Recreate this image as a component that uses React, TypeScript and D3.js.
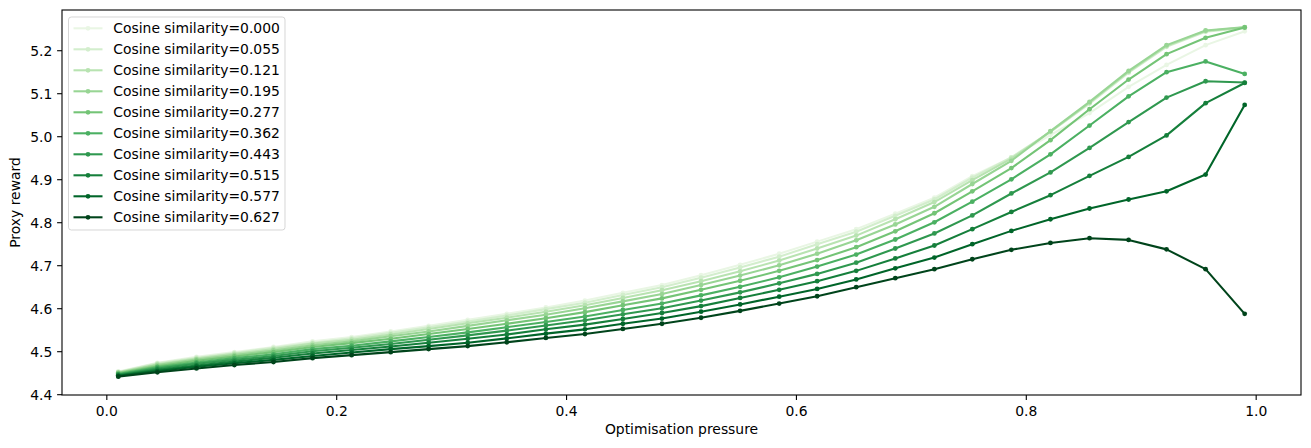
import React from "react";
import * as d3 from "d3";

const pressure = [0.010, 0.044, 0.078, 0.111, 0.145, 0.179, 0.213, 0.247, 0.280, 0.314, 0.348, 0.382, 0.416, 0.449, 0.483, 0.517, 0.551, 0.585, 0.618, 0.652, 0.686, 0.720, 0.753, 0.787, 0.821, 0.855, 0.889, 0.922, 0.956, 0.990];

const cosineLabels = ["0.000", "0.055", "0.121", "0.195", "0.277", "0.362", "0.443", "0.515", "0.577", "0.627"];

const cos000 = [4.454, 4.474, 4.488, 4.499, 4.511, 4.524, 4.534, 4.547, 4.560, 4.574, 4.588, 4.603, 4.619, 4.637, 4.655, 4.678, 4.702, 4.728, 4.756, 4.785, 4.821, 4.858, 4.908, 4.952, 5.004, 5.055, 5.116, 5.167, 5.213, 5.245];
const cos055 = [4.453, 4.473, 4.486, 4.497, 4.509, 4.521, 4.531, 4.544, 4.557, 4.570, 4.584, 4.599, 4.614, 4.632, 4.650, 4.672, 4.696, 4.721, 4.750, 4.779, 4.816, 4.854, 4.905, 4.952, 5.011, 5.077, 5.149, 5.209, 5.244, 5.253];
const cos121 = [4.452, 4.471, 4.484, 4.495, 4.506, 4.519, 4.528, 4.540, 4.553, 4.566, 4.579, 4.593, 4.608, 4.625, 4.643, 4.664, 4.687, 4.712, 4.740, 4.770, 4.808, 4.848, 4.899, 4.949, 5.012, 5.079, 5.151, 5.211, 5.246, 5.254];
const cos195 = [4.451, 4.469, 4.482, 4.492, 4.503, 4.515, 4.524, 4.536, 4.547, 4.560, 4.573, 4.586, 4.601, 4.617, 4.634, 4.655, 4.677, 4.701, 4.728, 4.759, 4.796, 4.837, 4.890, 4.944, 5.013, 5.081, 5.153, 5.213, 5.247, 5.255];
const cos277 = [4.450, 4.466, 4.479, 4.489, 4.499, 4.511, 4.520, 4.530, 4.541, 4.553, 4.565, 4.578, 4.592, 4.608, 4.624, 4.644, 4.665, 4.688, 4.713, 4.743, 4.780, 4.822, 4.873, 4.927, 4.992, 5.064, 5.133, 5.192, 5.230, 5.254];
const cos362 = [4.448, 4.464, 4.475, 4.485, 4.494, 4.506, 4.514, 4.524, 4.534, 4.545, 4.557, 4.569, 4.582, 4.597, 4.612, 4.631, 4.651, 4.673, 4.698, 4.726, 4.761, 4.801, 4.849, 4.901, 4.959, 5.026, 5.094, 5.150, 5.175, 5.146];
const cos443 = [4.447, 4.461, 4.472, 4.481, 4.490, 4.501, 4.509, 4.518, 4.528, 4.538, 4.549, 4.561, 4.573, 4.587, 4.601, 4.619, 4.638, 4.659, 4.681, 4.707, 4.740, 4.775, 4.817, 4.868, 4.917, 4.974, 5.034, 5.091, 5.129, 5.126];
const cos515 = [4.445, 4.458, 4.468, 4.477, 4.486, 4.496, 4.504, 4.512, 4.521, 4.530, 4.540, 4.552, 4.563, 4.576, 4.590, 4.606, 4.625, 4.644, 4.664, 4.688, 4.717, 4.747, 4.785, 4.825, 4.864, 4.909, 4.953, 5.003, 5.078, 5.125];
const cos577 = [4.444, 4.455, 4.465, 4.473, 4.481, 4.490, 4.498, 4.506, 4.513, 4.521, 4.531, 4.542, 4.552, 4.565, 4.577, 4.593, 4.610, 4.628, 4.646, 4.668, 4.694, 4.719, 4.750, 4.781, 4.808, 4.833, 4.854, 4.873, 4.912, 5.074];
const cos627 = [4.442, 4.452, 4.461, 4.469, 4.476, 4.485, 4.492, 4.499, 4.506, 4.513, 4.522, 4.532, 4.541, 4.553, 4.565, 4.579, 4.595, 4.612, 4.629, 4.650, 4.671, 4.692, 4.715, 4.737, 4.753, 4.764, 4.760, 4.738, 4.692, 4.588];

const seriesValues = [cos000, cos055, cos121, cos195, cos277, cos362, cos443, cos515, cos577, cos627];

const xTicks = [0.0, 0.2, 0.4, 0.6, 0.8, 1.0];
const yTicks = [4.4, 4.5, 4.6, 4.7, 4.8, 4.9, 5.0, 5.1, 5.2];

const W = 1311;
const H = 448;
const left = 62;
const right = 1301;
const top = 10;
const bottom = 395;
const FONT = "'DejaVu Sans', sans-serif";
const FS = 13.9;

const greens = d3
  .scaleLinear<string>()
  .domain([0, 0.125, 0.25, 0.375, 0.5, 0.625, 0.75, 0.875, 1])
  .range(["#f7fcf5", "#e5f5e0", "#c7e9c0", "#a1d99b", "#74c476", "#41ab5d", "#238b45", "#006d2c", "#00441b"])
  .interpolate(d3.interpolateRgb);

export default function App() {
  const x = d3.scaleLinear().domain([-0.039, 1.039]).range([left, right]);
  const y = d3.scaleLinear().domain([4.3993, 5.2947]).range([bottom, top]);
  const colors = seriesValues.map((_, k) => greens(0.1 + 0.1 * k));
  const line = d3
    .line<number>()
    .x((_, i) => x(pressure[i]))
    .y((v) => y(v));

  const legX = 68.5;
  const legY = 17;
  const legW = 216.5;
  const legH = 213;
  const rowH = 21;

  return (
    <svg
      width={W}
      height={H}
      style={{ position: "absolute", left: 0, top: 0, display: "block", background: "#fff" }}
      fontFamily={FONT}
    >
      <rect x={0} y={0} width={W} height={H} fill="#fff" />
      <defs>
        <clipPath id="plotclip">
          <rect x={left} y={top} width={right - left} height={bottom - top} />
        </clipPath>
      </defs>
      <g clipPath="url(#plotclip)">
        {seriesValues.map((vals, k) => (
          <g key={k}>
            <path d={line(vals) || ""} fill="none" stroke={colors[k]} strokeWidth={2.08} strokeLinejoin="round" strokeLinecap="square" />
            {vals.map((v, i) => (
              <circle key={i} cx={x(pressure[i])} cy={y(v)} r={2.4} fill={colors[k]} />
            ))}
          </g>
        ))}
      </g>
      {/* spines */}
      <rect x={left} y={top} width={right - left} height={bottom - top} fill="none" stroke="#000" strokeWidth={1.1} />
      {/* x ticks */}
      {xTicks.map((t) => (
        <g key={"x" + t}>
          <line x1={x(t)} x2={x(t)} y1={bottom} y2={bottom + 4.9} stroke="#000" strokeWidth={1.1} />
          <text x={x(t)} y={416} textAnchor="middle" fontSize={FS} fill="#000">
            {t.toFixed(1)}
          </text>
        </g>
      ))}
      {/* y ticks */}
      {yTicks.map((t) => (
        <g key={"y" + t}>
          <line x1={left - 4.9} x2={left} y1={y(t)} y2={y(t)} stroke="#000" strokeWidth={1.1} />
          <text x={52.3} y={y(t) + 5} textAnchor="end" fontSize={FS} fill="#000">
            {t.toFixed(1)}
          </text>
        </g>
      ))}
      <text x={(left + right) / 2} y={434} textAnchor="middle" fontSize={FS} fill="#000">
        Optimisation pressure
      </text>
      <text
        transform={`translate(20, ${(top + bottom) / 2}) rotate(-90)`}
        textAnchor="middle"
        fontSize={FS}
        fill="#000"
      >
        Proxy reward
      </text>
      {/* legend */}
      <rect x={legX} y={legY} width={legW} height={legH} rx={2.8} fill="#fff" fillOpacity={0.8} stroke="#cccccc" strokeOpacity={0.8} strokeWidth={1} />
      {cosineLabels.map((lab, k) => {
        const cy = 28.3 + rowH * k;
        return (
          <g key={"l" + k}>
            <line x1={73.5} x2={102.5} y1={cy} y2={cy} stroke={colors[k]} strokeWidth={2.08} />
            <circle cx={88} cy={cy} r={2.4} fill={colors[k]} />
            <text x={113.3} y={cy + 5} fontSize={FS} fill="#000">
              {"Cosine similarity=" + lab}
            </text>
          </g>
        );
      })}
    </svg>
  );
}
